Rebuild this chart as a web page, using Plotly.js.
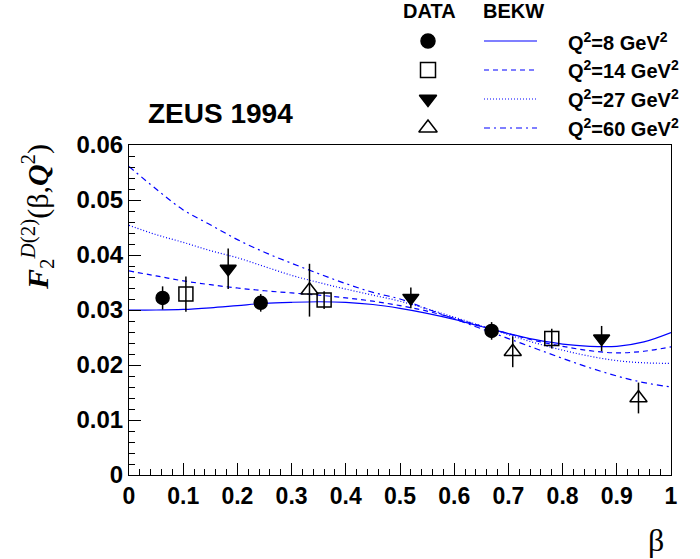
<!DOCTYPE html>
<html><head><meta charset="utf-8">
<script src="https://cdn.plot.ly/plotly-3.0.1.min.js"></script>
<style>html,body{margin:0;padding:0;background:#fff}</style>
</head><body><div id="chart" style="width:700px;height:559px"></div>
<script>
// ---- data ----
const q2Values = ['8', '14', '27', '60'];

const beta8  = [0.062, 0.243, 0.669];
const f2d8   = [0.0322, 0.0313, 0.0262];
const err8   = [0.0021, 0.0016, 0.0016];

const beta14 = [0.105, 0.360, 0.780];
const f2d14  = [0.0329, 0.0318, 0.0248];
const err14  = [0.0032, 0.0016, 0.0018];

const beta27 = [0.183, 0.520, 0.872];
const f2d27  = [0.0375, 0.0322, 0.0248];
const err27  = [0.0037, 0.0019, 0.0023];

const beta60 = [0.333, 0.708, 0.940];
const f2d60  = [0.0336, 0.0224, 0.0140];
const err60  = [0.0048, 0.0028, 0.0028];

const betaGrid = [0, 0.05, 0.1, 0.15, 0.2, 0.25, 0.3, 0.35, 0.4, 0.45, 0.5,
                  0.55, 0.6, 0.65, 0.7, 0.75, 0.8, 0.85, 0.9, 0.95, 1.0];
const bekw8  = [0.0300, 0.0300, 0.0301, 0.0304, 0.0308, 0.0312, 0.0314, 0.0315, 0.0314, 0.0310, 0.0303,
                0.0294, 0.0283, 0.0270, 0.0257, 0.0246, 0.0238, 0.0234, 0.0234, 0.0242, 0.0259];
const bekw14 = [0.0371, 0.0362, 0.0353, 0.0346, 0.0340, 0.0335, 0.0331, 0.0327, 0.0322, 0.0316, 0.0308,
                0.0298, 0.0285, 0.0271, 0.0257, 0.0244, 0.0234, 0.0226, 0.0222, 0.0225, 0.0233];
const bekw27 = [0.0454, 0.0437, 0.0423, 0.0408, 0.0395, 0.0379, 0.0363, 0.0350, 0.0338, 0.0327, 0.0316,
                0.0302, 0.0287, 0.0271, 0.0255, 0.0240, 0.0227, 0.0216, 0.0208, 0.0204, 0.0203];
const bekw60 = [0.0561, 0.0520, 0.0482, 0.0455, 0.0428, 0.0405, 0.0385, 0.0366, 0.0348, 0.0332, 0.0320,
                0.0302, 0.0284, 0.0266, 0.0248, 0.0230, 0.0212, 0.0195, 0.0180, 0.0168, 0.0160];

// ---- styling ----
const W = 700, H = 559;
const px = x => x / W;
const py = y => 1 - y / H;
const BLUE = '#0000ff';
const dashes = ['solid', '5px,4px', '1px,2px', '6px,4px,2px,4px'];
const symbols = ['circle', 'square-open', 'triangle-down', 'triangle-up-open'];
const msize = [13, 14, 14, 15];

const dataSets = [[beta8, f2d8, err8], [beta14, f2d14, err14], [beta27, f2d27, err27], [beta60, f2d60, err60]];
const curves = [bekw8, bekw14, bekw27, bekw60];

const traces = [];
curves.forEach((c, i) => traces.push({
  x: betaGrid, y: c, type: 'scatter', mode: 'lines',
  line: {color: BLUE, width: 1.2, dash: dashes[i], shape: 'spline', smoothing: 1},
  hoverinfo: 'skip', showlegend: false
}));
dataSets.forEach((d, i) => traces.push({
  x: d[0], y: d[1], type: 'scatter', mode: 'markers',
  error_y: {type: 'data', array: d[2], visible: true, color: 'black', thickness: 1.5, width: 0},
  marker: {symbol: symbols[i], size: msize[i], color: 'black', line: {color: 'black', width: 1.5}},
  showlegend: false, cliponaxis: false
}));

// ---- hand-made legend (layout positions in pixels on an overlay axis) ----
const legRows = [41, 70, 99, 128];
const legMarkX = 428, legLine = [484, 537], legTextX = 566;
legRows.forEach((yy, i) => {
  traces.push({x: [legMarkX], y: [yy], xaxis: 'x2', yaxis: 'y2', type: 'scatter', mode: 'markers',
    marker: {symbol: symbols[i], size: msize[i] + 1, color: 'black', line: {color: 'black', width: 1.5}},
    showlegend: false, hoverinfo: 'skip'});
  traces.push({x: legLine, y: [yy, yy], xaxis: 'x2', yaxis: 'y2', type: 'scatter', mode: 'lines',
    line: {color: BLUE, width: 1.2, dash: dashes[i]}, showlegend: false, hoverinfo: 'skip'});
});

const boldFont = {family: 'Liberation Sans, Arial, sans-serif', color: 'black', weight: 'bold'};
const annotations = [
  {x: px(429), y: py(11), text: 'DATA', font: Object.assign({size: 20}, boldFont)},
  {x: px(513), y: py(11), text: 'BEKW', font: Object.assign({size: 20}, boldFont)},
  {x: px(146), y: py(113), xanchor: 'left', text: 'ZEUS 1994', font: Object.assign({size: 28}, boldFont)},
  {x: px(37), y: py(217), textangle: -90,
   text: '<b><i>F</i></b><sub>2</sub><sup><i>D</i>(2)</sup>(β,<b><i>Q</i></b><sup>2</sup>)',
   font: {family: 'Liberation Serif, Times New Roman, serif', size: 30, color: 'black'}},
  {x: px(656), y: py(540), text: 'β', font: {family: 'Liberation Serif, Times New Roman, serif', size: 32, color: 'black'}}
];
legRows.forEach((yy, i) => annotations.push({
  x: px(legTextX), y: py(yy), xanchor: 'left',
  text: 'Q<sup>2</sup>=' + q2Values[i] + ' GeV<sup>2</sup>', font: Object.assign({size: 20}, boldFont)
}));
annotations.forEach(a => { a.xref = 'paper'; a.yref = 'paper'; a.showarrow = false; if (!a.yanchor) a.yanchor = 'middle'; if (!a.xanchor) a.xanchor = 'center'; });

const layout = {
  width: W, height: H,
  margin: {l: 0, r: 0, t: 0, b: 0},
  paper_bgcolor: 'white', plot_bgcolor: 'rgba(0,0,0,0)',
  showlegend: false,
  xaxis: {domain: [px(129), px(671)], range: [0, 1], dtick: 0.1, tick0: 0, anchor: 'y',
    showgrid: false, zeroline: false, showline: true, mirror: true, linecolor: 'black', linewidth: 1,
    ticks: 'inside', ticklen: 12, tickcolor: 'black', tickwidth: 1,
    minor: {dtick: 0.02, ticks: 'inside', ticklen: 6, tickcolor: 'black', showgrid: false},
    tickfont: Object.assign({size: 23}, boldFont)},
  yaxis: {domain: [py(475), py(145)], range: [0, 0.06], dtick: 0.01, tick0: 0, anchor: 'x',
    showgrid: false, zeroline: false, showline: true, mirror: true, linecolor: 'black', linewidth: 1,
    ticks: 'inside', ticklen: 12, tickcolor: 'black', tickwidth: 1,
    minor: {dtick: 0.002, ticks: 'inside', ticklen: 6, tickcolor: 'black', showgrid: false},
    tickfont: Object.assign({size: 24}, boldFont)},
  xaxis2: {domain: [0, 1], range: [0, W], visible: false, anchor: 'y2', fixedrange: true},
  yaxis2: {domain: [0, 1], range: [H, 0], visible: false, anchor: 'x2', fixedrange: true},
  annotations: annotations
};

Plotly.newPlot('chart', traces, layout, {displayModeBar: false, staticPlot: true});
</script></body></html>
